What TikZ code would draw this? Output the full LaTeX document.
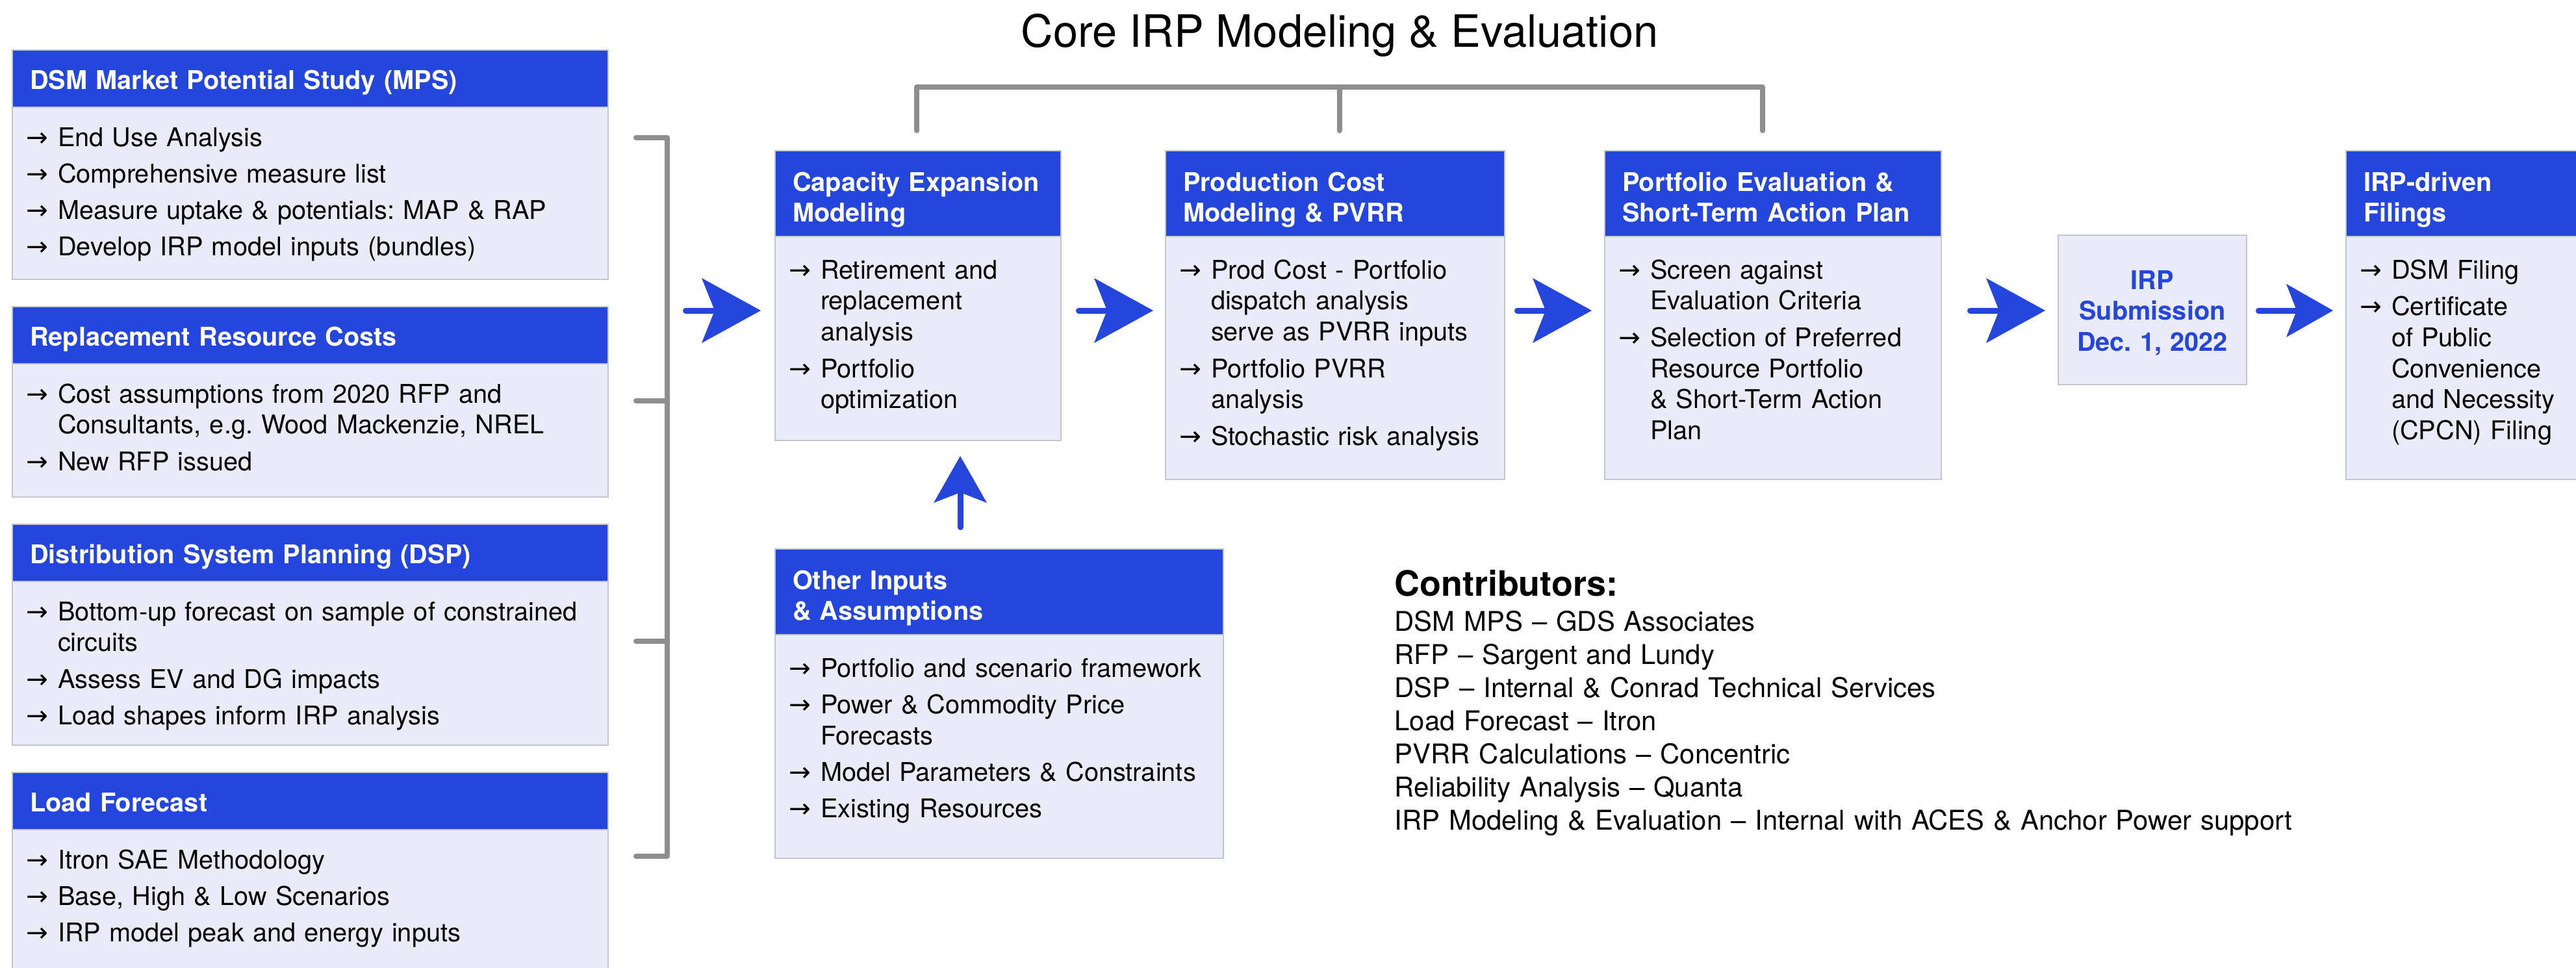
\documentclass[tikz,border=0pt]{standalone}
\usepackage{fontspec}
\setmainfont{TeX Gyre Heros}
\newfontfamily\arrowfont{DejaVu Sans}
\usetikzlibrary{positioning, arrows.meta}

\definecolor{irpblue}{RGB}{36,70,220}
\definecolor{boxfill}{RGB}{233,236,248}
\definecolor{boxline}{RGB}{196,198,206}
\definecolor{bargray}{RGB}{142,142,142}

% arrow bullet, wrapped line and next bullet inside the boxes
\newcommand\itm{\makebox[0.43cm][l]{\hspace*{-0.06cm}\arrowfont\fontsize{11.5}{12}\selectfont →}}
\newcommand\wrap{\\\hspace*{0.43cm}}
\newcommand\nxt{\\[2.3pt]\itm}
\frenchspacing

\begin{document}
\begin{tikzpicture}[
    box/.style={draw=boxline, line width=0.5pt, inner xsep=0.27cm, inner ysep=0pt, outer sep=0pt, align=left},
    hdr/.style={box, fill=irpblue, text=white, font=\fontsize{11.3}{13.65}\selectfont\bfseries, text height=0.60cm, text depth=0.28cm},
    hdrtwo/.style={hdr, text height=0.62cm, text depth=0.70cm},
    bodybox/.style={box, fill=boxfill, font=\fontsize{11.3}{13.65}\selectfont, text height=0.60cm},
    corebox/.style={bodybox, text height=0.65cm},
    greybar/.style={draw=bargray, line width=0.08cm, line cap=round, line join=round},
    bigarrow/.style={draw=irpblue, line width=0.09cm, line cap=round, -{Stealth[length=0.91cm, width=1cm, inset=0.2cm, line width=0pt]}},
    smallarrow/.style={bigarrow, -{Stealth[length=0.72cm, width=0.82cm, inset=0.16cm, line width=0pt]}}
  ]
  \useasboundingbox (0,0) rectangle (39.65,-14.89);

  % Title and bracket over the core steps
  \node[font=\fontsize{19.5}{23}\selectfont, anchor=base, inner sep=0pt] (title) at (20.62,-0.72) {Core IRP Modeling \& Evaluation};
  \draw[greybar] (14.11,-2.01) -- (14.11,-1.34) -- (27.13,-1.34) -- (27.13,-2.01);
  \draw[greybar] (20.62,-1.34) -- (20.62,-2.01);

  % Input studies (left column)
  \node[hdr, text width=8.63cm, anchor=north west] (mpsH) at (0.19,-0.77) {DSM Market Potential Study (MPS)};
  \node[bodybox, text width=8.63cm, text depth=2.05cm, below=0pt of mpsH] (mps)
    {\itm End Use Analysis\nxt Comprehensive measure list\nxt Measure uptake \& potentials: MAP \& RAP\nxt Develop IRP model inputs (bundles)};

  \node[hdr, text width=8.63cm, below=0.42cm of mps] (repH) {Replacement Resource Costs};
  \node[bodybox, text width=8.63cm, text depth=1.45cm, below=0pt of repH] (rep)
    {\itm Cost assumptions from 2020 RFP and\wrap Consultants, e.g. Wood Mackenzie, NREL\nxt New RFP issued};

  \node[hdr, text width=8.63cm, below=0.42cm of rep] (dspH) {Distribution System Planning (DSP)};
  \node[bodybox, text width=8.63cm, text depth=1.92cm, below=0pt of dspH] (dsp)
    {\itm Bottom-up forecast on sample of constrained\wrap circuits\nxt Assess EV and DG impacts\nxt Load shapes inform IRP analysis};

  \node[hdr, text width=8.63cm, below=0.42cm of dsp] (lfH) {Load Forecast};
  \node[bodybox, text width=8.63cm, text depth=1.70cm, below=0pt of lfH] (lf)
    {\itm Itron SAE Methodology\nxt Base, High \& Low Scenarios\nxt IRP model peak and energy inputs};

  % bracket gathering the inputs
  \draw[greybar] (9.79,-2.12) -- (10.27,-2.12) -- (10.27,-13.18) -- (9.79,-13.18);
  \draw[greybar] (9.79,-6.17) -- (10.27,-6.17);
  \draw[greybar] (9.79,-9.87) -- (10.27,-9.87);
  \coordinate (brkmid) at (10.27,-4.78);
  \coordinate (flow) at (0,-4.78);
  \coordinate (up) at (14.78,0);

  % Core modeling steps
  \node[hdrtwo, text width=3.86cm, anchor=north west] (capH) at (11.93,-2.32) {Capacity Expansion\\Modeling};
  \node[corebox, text width=3.86cm, text depth=2.49cm, below=0pt of capH] (cap)
    {\itm Retirement and\wrap replacement\wrap analysis\nxt Portfolio\wrap optimization};

  \node[hdrtwo, text width=4.68cm, right=1.61cm of capH] (prodH) {Production Cost\\Modeling \& PVRR};
  \node[corebox, text width=4.68cm, text depth=3.09cm, below=0pt of prodH] (prod)
    {\itm Prod Cost - Portfolio\wrap dispatch analysis\wrap serve as PVRR inputs\nxt Portfolio PVRR\wrap analysis\nxt Stochastic risk analysis};

  \node[hdrtwo, text width=4.64cm, right=1.54cm of prodH] (portH) {Portfolio Evaluation \&\\Short-Term Action Plan};
  \node[corebox, text width=4.64cm, text depth=3.09cm, below=0pt of portH] (port)
    {\itm Screen against\wrap Evaluation Criteria\nxt Selection of Preferred\wrap Resource Portfolio\wrap \& Short-Term Action\wrap Plan};

  \node[bodybox, align=center, inner xsep=0pt, text width=2.90cm, text height=0.83cm, text depth=1.47cm, text=irpblue,
        font=\fontsize{11.3}{13.65}\selectfont\bfseries, anchor=north west] (irp) at (31.68,-3.62) {IRP\\Submission\\Dec. 1, 2022};

  \node[hdrtwo, text width=3.10cm, anchor=north west] (filH) at (36.11,-2.32) {IRP-driven\\Filings};
  \node[corebox, text width=3.10cm, text depth=3.09cm, below=0pt of filH] (fil)
    {\itm DSM Filing\nxt Certificate\wrap of Public\wrap Convenience\wrap and Necessity\wrap (CPCN) Filing};

  \node[hdrtwo, text width=6.36cm, below right=1.67cm and 0cm of cap.south west] (othH) {Other Inputs\\\& Assumptions};
  \node[corebox, text width=6.36cm, text depth=2.79cm, below=0pt of othH] (oth)
    {\itm Portfolio and scenario framework\nxt Power \& Commodity Price\wrap Forecasts\nxt Model Parameters \& Constraints\nxt Existing Resources};

  % flow arrows
  \draw[bigarrow, shorten <=0.285cm, shorten >=0.22cm] (brkmid) -- (cap.west |- flow);
  \draw[bigarrow, shorten <=0.275cm, shorten >=0.19cm] (cap.east |- flow) -- (prod.west |- flow);
  \draw[bigarrow, shorten <=0.195cm, shorten >=0.20cm] (prod.east |- flow) -- (port.west |- flow);
  \draw[bigarrow, shorten <=0.445cm, shorten >=0.20cm] (port.east |- flow) -- (irp.west |- flow);
  \draw[smallarrow, shorten <=0.185cm, shorten >=0.20cm] (irp.east |- flow) -- (fil.west |- flow);
  \draw[smallarrow, shorten <=0.335cm, shorten >=0.24cm] (othH.north -| up) -- (cap.south -| up);

  % Contributors list
  \node[anchor=base west, inner sep=0pt, text width=14.5cm, align=left, font=\fontsize{11.9}{14.5}\selectfont] (contrib) at (21.46,-9.17)
    {{\fontsize{15.3}{18}\selectfont\bfseries Contributors:}\\[1.1pt]
     DSM MPS – GDS Associates\\
     RFP – Sargent and Lundy\\
     DSP – Internal \& Conrad Technical Services\\
     Load Forecast – Itron\\
     PVRR Calculations – Concentric\\
     Reliability Analysis – Quanta\\
     IRP Modeling \& Evaluation – Internal with ACES \& Anchor Power support};
\end{tikzpicture}
\end{document}
